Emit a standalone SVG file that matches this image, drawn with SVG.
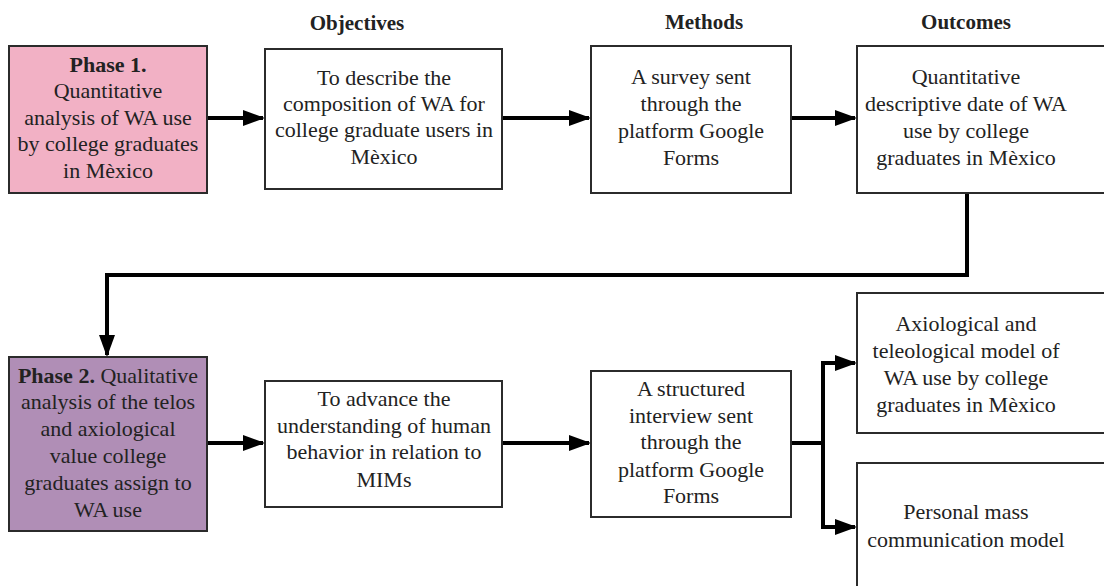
<svg xmlns="http://www.w3.org/2000/svg" width="1104" height="586" viewBox="0 0 1104 586">
<style>
.box{fill:#fff;stroke:#2b2b2b;stroke-width:2}
.p1{fill:#f2b1c5}
.p2{fill:#b08eb6}
text{font-family:"Liberation Serif","DejaVu Serif",serif;font-size:22px;fill:#222;text-anchor:middle}
.hd{font-weight:bold;font-size:21px}
.b{font-weight:bold}
.con{fill:none;stroke:#000;stroke-width:4}
</style>
<defs>
<marker id="ah" markerUnits="userSpaceOnUse" markerWidth="22" markerHeight="16" refX="20" refY="8" orient="auto">
<path d="M0,0 L22,8 L0,16 Z" fill="#000"/>
</marker>
</defs>
<g id="headers">
<text class="hd" x="357" y="30">Objectives</text>
<text class="hd" x="704" y="29">Methods</text>
<text class="hd" x="966" y="29">Outcomes</text>
</g>
<g id="connectors">
<path class="con" d="M207,118 H263" marker-end="url(#ah)"/>
<path class="con" d="M502,118 H589" marker-end="url(#ah)"/>
<path class="con" d="M791,118 H855" marker-end="url(#ah)"/>
<path class="con" d="M967,193 V275 H107 V355" marker-end="url(#ah)"/>
<path class="con" d="M207,443 H263" marker-end="url(#ah)"/>
<path class="con" d="M502,443 H589" marker-end="url(#ah)"/>
<path class="con" d="M791,443 H823"/>
<path class="con" d="M823,363 V527"/>
<path class="con" d="M821,363 H855" marker-end="url(#ah)"/>
<path class="con" d="M821,527 H855" marker-end="url(#ah)"/>
</g>
<g id="phase1">
<rect class="box p1" x="9" y="46" width="198" height="147"/>
<text x="108" y="72" class="b">Phase 1.</text>
<text x="108" y="98">Quantitative</text>
<text x="108" y="125">analysis of WA use</text>
<text x="108" y="151">by college graduates</text>
<text x="108" y="178">in Mèxico</text>
</g>
<g id="objective1">
<rect class="box" x="265" y="49" width="237" height="140"/>
<text x="384" y="85">To describe the</text>
<text x="384" y="111">composition of WA for</text>
<text x="384" y="137">college graduate users in</text>
<text x="384" y="164">Mèxico</text>
</g>
<g id="method1">
<rect class="box" x="591" y="46" width="200" height="147"/>
<text x="691" y="84">A survey sent</text>
<text x="691" y="111">through the</text>
<text x="691" y="138">platform Google</text>
<text x="691" y="165">Forms</text>
</g>
<g id="outcome1">
<rect class="box" x="857" y="46" width="260" height="147"/>
<text x="966" y="84">Quantitative</text>
<text x="966" y="111">descriptive date of WA</text>
<text x="966" y="138">use by college</text>
<text x="966" y="165">graduates in Mèxico</text>
</g>
<g id="phase2">
<rect class="box p2" x="9" y="357" width="198" height="174"/>
<text x="108" y="383"><tspan class="b">Phase 2.</tspan> Qualitative</text>
<text x="108" y="409">analysis of the telos</text>
<text x="108" y="436">and axiological</text>
<text x="108" y="463">value college</text>
<text x="108" y="490">graduates assign to</text>
<text x="108" y="517">WA use</text>
</g>
<g id="objective2">
<rect class="box" x="265" y="381" width="237" height="126"/>
<text x="384" y="406">To advance the</text>
<text x="384" y="433">understanding of human</text>
<text x="384" y="459">behavior in relation to</text>
<text x="384" y="487">MIMs</text>
</g>
<g id="method2">
<rect class="box" x="591" y="371" width="200" height="146"/>
<text x="691" y="396">A structured</text>
<text x="691" y="423">interview sent</text>
<text x="691" y="449">through the</text>
<text x="691" y="477">platform Google</text>
<text x="691" y="503">Forms</text>
</g>
<g id="outcome2a">
<rect class="box" x="857" y="293" width="260" height="140"/>
<text x="966" y="331">Axiological and</text>
<text x="966" y="358">teleological model of</text>
<text x="966" y="385">WA use by college</text>
<text x="966" y="412">graduates in Mèxico</text>
</g>
<g id="outcome2b">
<rect class="box" x="857" y="463" width="260" height="140"/>
<text x="966" y="519">Personal mass</text>
<text x="966" y="547">communication model</text>
</g>
</svg>
